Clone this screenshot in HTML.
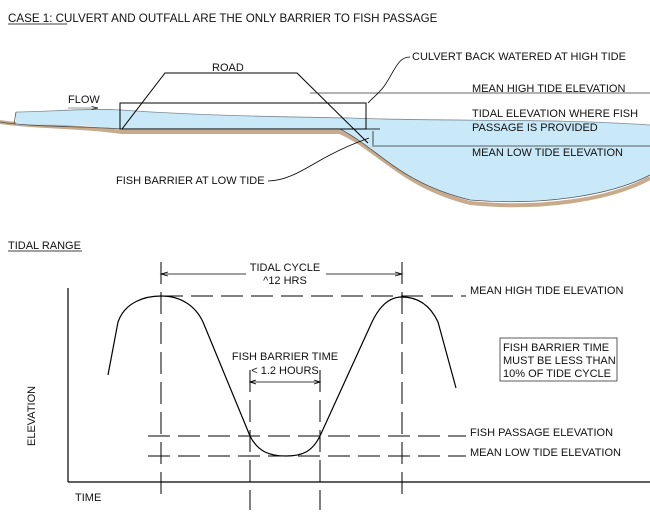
<!DOCTYPE html>
<html><head><style>body{margin:0;background:#fff}svg{display:block}text{font-family:"Liberation Sans",sans-serif;font-size:11px;fill:#111}</style></head><body>
<svg width="650" height="522" viewBox="0 0 650 522" xmlns="http://www.w3.org/2000/svg">
<defs><marker id="a" markerWidth="8" markerHeight="6" refX="8" refY="3" orient="auto"><path d="M0,1 L8,3 L0,5" fill="none" stroke="#000" stroke-width="0.8"/></marker></defs>
<text x="8" y="22" style="font-size:11.6px">CASE 1: CULVERT AND OUTFALL ARE THE ONLY BARRIER TO FISH PASSAGE</text>
<line x1="8" y1="24" x2="67" y2="24" stroke="#000" stroke-width="0.8"/>
<path d="M0,122 C30,127 80,126 122,132 L340,132 C380,150 400,185 470,203 C540,210 610,200 650,178" fill="none" stroke="#c8ab8c" stroke-width="4"/>
<path d="M16,112 C50,112 80,108 122,110 C200,116 300,117 350,118 C450,122 550,118 650,125 L650,175 C610,196 540,206 470,200 C400,185 380,148 340,130 L122,130 C80,123 40,125 16,125 Z" fill="#c9e9f9"/>
<path d="M16,112 C50,112 80,108 122,110 C200,116 300,117 350,118 C450,122 550,118 650,125" fill="none" stroke="#7a8a95" stroke-width="0.8"/>
<path d="M16,112 L14,124 M0,122 C30,127 80,126 122,129 L340,129 C380,150 400,183 470,200 C540,206 610,196 650,175" fill="none" stroke="#555" stroke-width="0.8"/>
<rect x="120" y="103" width="246" height="26" fill="none" stroke="#000" stroke-width="1"/>
<line x1="366" y1="129" x2="380" y2="129" stroke="#000" stroke-width="0.8"/>
<path d="M122,129 L165,73 L297,73 L368,143" fill="none" stroke="#000" stroke-width="1"/>
<line x1="310" y1="93" x2="650" y2="93" stroke="#333" stroke-width="0.8"/>
<line x1="372" y1="146" x2="650" y2="146" stroke="#333" stroke-width="0.8"/>
<line x1="373" y1="131" x2="373" y2="145" stroke="#000" stroke-width="0.7"/>
<text x="212" y="71">ROAD</text>
<text x="68" y="103">FLOW</text>
<line x1="68" y1="108" x2="98" y2="108" stroke="#777" stroke-width="0.8" marker-end="url(#a)"/>
<text x="412" y="60">CULVERT BACK WATERED AT HIGH TIDE</text>
<path d="M410,57 C398,57 395,70 385,85 C378,95 372,98 368,103" fill="none" stroke="#000" stroke-width="0.8"/>
<text x="472" y="92">MEAN HIGH TIDE ELEVATION</text>
<text x="472" y="117">TIDAL ELEVATION WHERE FISH</text>
<text x="472" y="131">PASSAGE IS PROVIDED</text>
<text x="472" y="156">MEAN LOW TIDE ELEVATION</text>
<text x="116" y="184">FISH BARRIER AT LOW TIDE</text>
<path d="M268,181 C290,181 310,165 330,155 C345,147 355,143 369,138" fill="none" stroke="#000" stroke-width="0.8"/>
<text x="8" y="249">TIDAL RANGE</text>
<line x1="8" y1="251" x2="82" y2="251" stroke="#000" stroke-width="0.8"/>
<line x1="68" y1="288" x2="68" y2="482" stroke="#000" stroke-width="1.2"/>
<line x1="68" y1="482" x2="650" y2="482" stroke="#000" stroke-width="1.2"/>
<text x="75" y="501">TIME</text>
<text transform="translate(35,446) rotate(-90)">ELEVATION</text>
<g stroke="#000" stroke-width="1" fill="none" stroke-dasharray="22,8">
<line x1="161" y1="262" x2="161" y2="496"/>
<line x1="402" y1="262" x2="402" y2="502"/>
<line x1="250" y1="370" x2="250" y2="510"/>
<line x1="320" y1="370" x2="320" y2="510"/>
<line x1="161" y1="296" x2="555" y2="296"/>
<line x1="148" y1="436" x2="555" y2="436"/>
<line x1="148" y1="456" x2="555" y2="456"/>
</g>
<rect x="466" y="284" width="90" height="14" fill="#fff"/>
<rect x="466" y="425" width="150" height="12" fill="#fff"/>
<rect x="466" y="445" width="150" height="12" fill="#fff"/>
<path d="M108,375 L118,322 C125,302 145,296 161,296 C180,296 195,305 203,322 L250,436 C258,452 270,456 286,456 C302,456 312,452 320,436 L372,322 C380,305 390,297 402,297 C418,297 430,305 438,322 L456,388" fill="none" stroke="#000" stroke-width="1.2"/>
<path d="M161,274 L246,274 M326,274 L402,274" stroke="#000" stroke-width="0.8"/>
<path d="M168,272 L161,274 L168,276 M395,272 L402,274 L395,276" fill="none" stroke="#000" stroke-width="0.8"/>
<text x="285" y="271" text-anchor="middle">TIDAL CYCLE</text>
<text x="285" y="284" text-anchor="middle">^12 HRS</text>
<text x="285" y="360" text-anchor="middle">FISH BARRIER TIME</text>
<text x="285" y="374" text-anchor="middle">&lt; 1.2 HOURS</text>
<path d="M250,382 L320,382 M256,380 L250,382 L256,384 M314,380 L320,382 L314,384" fill="none" stroke="#000" stroke-width="0.8"/>
<text x="470" y="294">MEAN HIGH TIDE ELEVATION</text>
<rect x="500" y="338" width="117" height="43" fill="none" stroke="#333" stroke-width="0.8"/>
<text x="503" y="351">FISH BARRIER TIME</text>
<text x="503" y="364">MUST BE LESS THAN</text>
<text x="503" y="377">10% OF TIDE CYCLE</text>
<text x="470" y="436">FISH PASSAGE ELEVATION</text>
<text x="470" y="456">MEAN LOW TIDE ELEVATION</text>
</svg>
</body></html>
